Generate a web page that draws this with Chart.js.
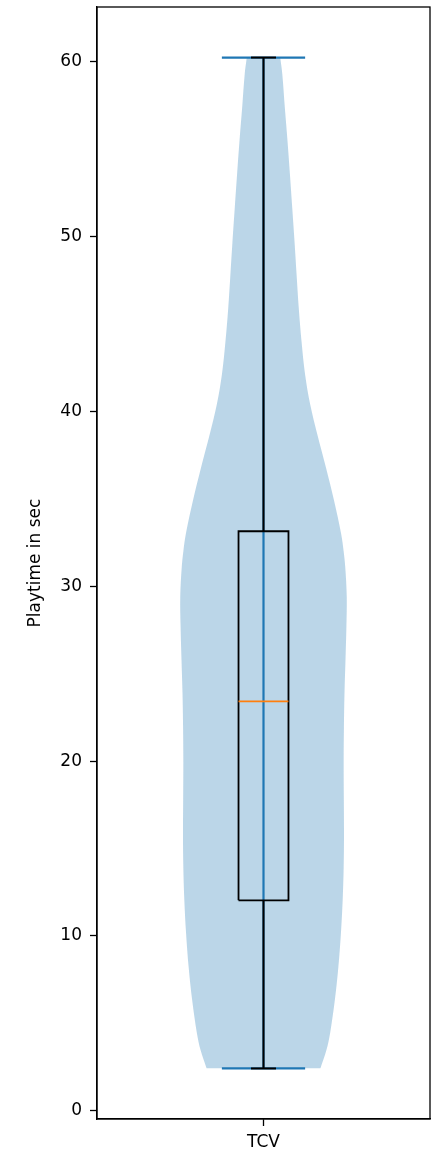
<!DOCTYPE html>
<html>
<head>
<meta charset="utf-8">
<title>TCV playtime</title>
<script src="https://cdn.jsdelivr.net/npm/chart.js@4.4.1/dist/chart.umd.min.js"></script>
<style>
  html, body { margin: 0; padding: 0; background: #fff; }
  #wrap { position: relative; width: 434px; height: 1153px; }
</style>
</head>
<body>
<div id="wrap"><canvas id="violinChart"></canvas></div>
<script>
// ─── Data ─────────────────────────────────────────────────────────────────────
const categories = ['TCV'];
const yTicks = [0, 10, 20, 30, 40, 50, 60];

// KDE profile of the violin: playtime level -> relative density (1 = widest)
const kdeLevels  = [2.42, 3.47, 4.44, 6.33, 8.21, 10.16, 12.04, 13.93, 15.87, 17.76, 20.0, 21.9,
                    23.9, 25.8, 27.7, 29.4, 31.1, 32.0, 33.0, 34.9, 36.8, 38.7, 40.4, 42.1,
                    44.0, 45.9, 47.8, 49.7, 51.6, 53.6, 55.5, 57.4, 59.3, 60.25];
const kdeDensity = [0.683, 0.756, 0.80, 0.857, 0.899, 0.93, 0.951, 0.963, 0.967, 0.965, 0.963, 0.966,
                    0.973, 0.985, 0.996, 1.0, 0.982, 0.963, 0.933, 0.848, 0.75, 0.646, 0.561, 0.5,
                    0.457, 0.424, 0.398, 0.373, 0.346, 0.317, 0.288, 0.256, 0.226, 0.201];

// box plot statistics
const mins      = [2.42];
const quartile1 = [12.04];
const medians   = [23.42];
const quartile3 = [33.15];
const maxs      = [60.25];

// ─── Styling constants ────────────────────────────────────────────────────────
const POS = 1;              // x position of the single violin
const VIOLIN_HALF = 0.25;   // half of violin width 0.5
const EXTREMA_HALF = 0.125;
const BOX_HALF = 0.075;
const CAP_HALF = 0.0375;
const BLUE = '#1f77b4';
const FONT = { family: 'DejaVu Sans', size: 17 };

function lineSet(data, color, width) {
    return { data: data, borderColor: color, borderWidth: width, pointRadius: 0,
             fill: false, tension: 0 };
}

document.addEventListener('DOMContentLoaded', function () {

    const datasets = [];
    categories.forEach(function (cat, i) {
        const p = POS + i;
        // drawn top-most first (Chart.js paints dataset 0 last)
        datasets.push(lineSet([{ x: p - BOX_HALF, y: medians[i] }, { x: p + BOX_HALF, y: medians[i] }], '#ff7f0e', 1.8));
        datasets.push(lineSet([
            { x: p - BOX_HALF, y: quartile1[i] }, { x: p + BOX_HALF, y: quartile1[i] },
            { x: p + BOX_HALF, y: quartile3[i] }, { x: p - BOX_HALF, y: quartile3[i] },
            { x: p - BOX_HALF, y: quartile1[i] }], '#000', 1.8));
        datasets.push(lineSet([{ x: p, y: quartile1[i] }, { x: p, y: mins[i] }], '#000', 2));
        datasets.push(lineSet([{ x: p, y: quartile3[i] }, { x: p, y: maxs[i] }], '#000', 2));
        datasets.push(lineSet([{ x: p - CAP_HALF, y: mins[i] }, { x: p + CAP_HALF, y: mins[i] }], '#000', 2));
        datasets.push(lineSet([{ x: p - CAP_HALF, y: maxs[i] }, { x: p + CAP_HALF, y: maxs[i] }], '#000', 2));
        // violin extrema + bar
        datasets.push(lineSet([{ x: p - EXTREMA_HALF, y: mins[i] }, { x: p + EXTREMA_HALF, y: mins[i] }], BLUE, 2.2));
        datasets.push(lineSet([{ x: p - EXTREMA_HALF, y: maxs[i] }, { x: p + EXTREMA_HALF, y: maxs[i] }], BLUE, 2.2));
        datasets.push(lineSet([{ x: p, y: mins[i] }, { x: p, y: maxs[i] }], BLUE, 2.2));
        // violin body: left edge filled to right edge
        datasets.push({
            data: kdeLevels.map((y, k) => ({ x: p - VIOLIN_HALF * kdeDensity[k], y: y })),
            borderWidth: 0, pointRadius: 0, tension: 0.35,
            backgroundColor: 'rgba(31,119,180,0.3)', fill: '+1'
        });
        datasets.push({
            data: kdeLevels.map((y, k) => ({ x: p + VIOLIN_HALF * kdeDensity[k], y: y })),
            borderWidth: 0, pointRadius: 0, tension: 0.35, fill: false
        });
    });

    const lo = Math.min(...mins), hi = Math.max(...maxs);
    const margin = 0.05 * (hi - lo);

    // ─── Full frame around the axes (matplotlib spines) ───────────────────────
    const frame = {
        id: 'frame',
        afterDatasetsDraw(chart) {
            const { ctx, chartArea: a } = chart;
            ctx.save();
            ctx.strokeStyle = '#000';
            ctx.lineWidth = 1.3;
            ctx.strokeRect(a.left, a.top, a.right - a.left, a.bottom - a.top);
            ctx.restore();
        }
    };

    new Chart(document.getElementById('violinChart'), {
        type: 'line',
        data: { datasets: datasets },
        plugins: [frame],
        options: {
            indexAxis: 'y',
            responsive: true,
            maintainAspectRatio: false,
            animation: false,
            layout: { padding: { top: 7, right: 4, left: 0, bottom: 0 } },
            plugins: { legend: { display: false }, tooltip: { enabled: false } },
            scales: {
                x: {
                    type: 'linear',
                    position: 'bottom',
                    min: POS - 0.5,
                    max: POS - 0.5 + categories.length,
                    afterBuildTicks: s => { s.ticks = categories.map((c, i) => ({ value: POS + i })); },
                    afterFit: s => { s.height = 34; s.paddingLeft = 0; s.paddingRight = 0; },
                    ticks: {
                        callback: v => categories[Math.round(v) - POS] || '',
                        color: '#000', font: FONT, padding: 6, maxRotation: 0, autoSkip: false
                    },
                    grid: { drawOnChartArea: false, tickLength: 7, tickColor: '#000', tickWidth: 1.3 },
                    border: { color: '#000', width: 1.3 }
                },
                y: {
                    type: 'linear',
                    min: lo - margin,
                    max: hi + margin,
                    afterBuildTicks: s => { s.ticks = yTicks.map(v => ({ value: v })); },
                    afterFit: s => { s.width = 97; s.paddingTop = 0; s.paddingBottom = 0; },
                    ticks: { color: '#000', font: FONT, padding: 8 },
                    title: {
                        display: true, text: 'Playtime in sec', color: '#000', font: FONT,
                        padding: { top: 25, bottom: 0 }
                    },
                    grid: { drawOnChartArea: false, tickLength: 7, tickColor: '#000', tickWidth: 1.3 },
                    border: { color: '#000', width: 1.3 }
                }
            }
        }
    });
});
</script>
</body>
</html>
